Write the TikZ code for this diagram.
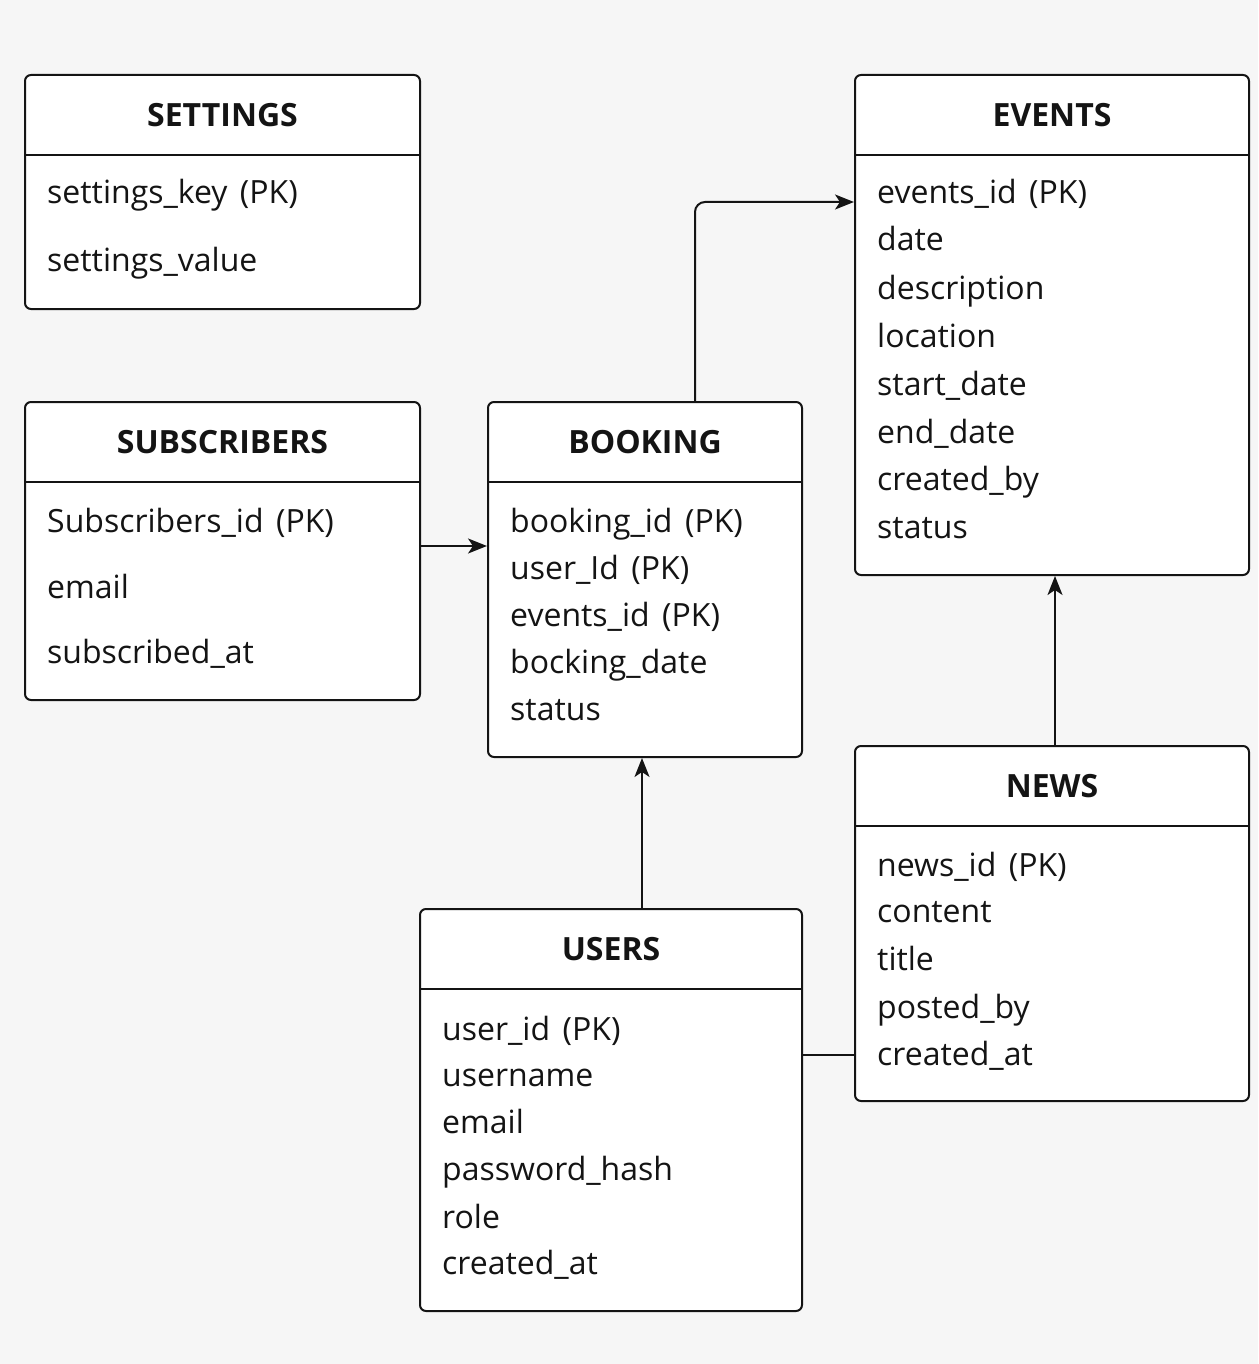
\documentclass[tikz,border=0pt]{standalone}
\usepackage{fontspec}
\setmainfont[WordSpace={1.5,1,1}]{Open Sans}
\usetikzlibrary{arrows.meta}
\definecolor{ink}{HTML}{141414}
\definecolor{paper}{HTML}{F6F6F6}
\begin{document}
\begin{tikzpicture}[x=1pt,y=-1pt,
  tbl/.style={draw=ink, fill=white, line width=2pt, rounded corners=6pt,
              inner sep=0pt, anchor=north west},
  ttl/.style={anchor=base, inner sep=0pt, text=ink,
              font=\fontsize{32}{38}\selectfont\bfseries},
  fld/.style={anchor=base west, inner sep=0pt, text=ink,
              font=\fontsize{32}{38}\selectfont},
  link/.style={draw=ink, line width=2pt},
  arrow/.style={link, -{Stealth[length=19pt,width=15pt,inset=5pt]}}]
% canvas
\fill[paper] (0,0) rectangle (1258,1364);
\useasboundingbox (0,0) rectangle (1258,1364);

% ---- table frames
\node[tbl, minimum width=395pt, minimum height=234pt] (settings) at (24,74) {};
\node[tbl, minimum width=395pt, minimum height=298pt] (subscribers) at (24,401) {};
\node[tbl, minimum width=314pt, minimum height=355pt] (booking) at (487,401) {};
\node[tbl, minimum width=394pt, minimum height=500pt] (events) at (854,74) {};
\node[tbl, minimum width=394pt, minimum height=355pt] (news) at (854,745) {};
\node[tbl, minimum width=382pt, minimum height=402pt] (users) at (419,908) {};

% ---- header separators
\foreach \t in {settings,subscribers,booking,events,news,users}{
  \draw[link] ([yshift=-81pt]\t.north west) -- ([yshift=-81pt]\t.north east);
}

% ---- titles
\node[ttl] (settings-t)    at ([yshift=-53pt]settings.north)    {SETTINGS};
\node[ttl] (subscribers-t) at ([yshift=-52pt]subscribers.north) {SUBSCRIBERS};
\node[ttl] (booking-t)     at ([yshift=-52pt]booking.north)     {BOOKING};
\node[ttl] (events-t)      at ([yshift=-53pt]events.north)      {EVENTS};
\node[ttl] (news-t)        at ([yshift=-52pt]news.north)        {NEWS};
\node[ttl] (users-t)       at ([yshift=-52pt]users.north)       {USERS};

% ---- SETTINGS fields
\node[fld] (settings-1) at ([xshift=23pt,yshift=-130pt]settings.north west) {settings\_key (PK)};
\node[fld] (settings-2) at ([xshift=23pt,yshift=-197pt]settings.north west) {settings\_value};

% ---- SUBSCRIBERS fields
\node[fld] (subscribers-1) at ([xshift=23pt,yshift=-131pt]subscribers.north west) {Subscribers\_id (PK)};
\node[fld] (subscribers-2) at ([xshift=23pt,yshift=-197pt]subscribers.north west) {email};
\node[fld] (subscribers-3) at ([xshift=23pt,yshift=-262pt]subscribers.north west) {subscribed\_at};

% ---- BOOKING fields
\node[fld] (booking-1) at ([xshift=23pt,yshift=-131pt]booking.north west) {booking\_id (PK)};
\node[fld] (booking-2) at ([xshift=23pt,yshift=-178pt]booking.north west) {user\_Id (PK)};
\node[fld] (booking-3) at ([xshift=23pt,yshift=-225pt]booking.north west) {events\_id (PK)};
\node[fld] (booking-4) at ([xshift=23pt,yshift=-272pt]booking.north west) {bocking\_date};
\node[fld] (booking-5) at ([xshift=23pt,yshift=-319pt]booking.north west) {status};

% ---- EVENTS fields
\node[fld] (events-1) at ([xshift=23pt,yshift=-130pt]events.north west) {events\_id (PK)};
\node[fld] (events-2) at ([xshift=23pt,yshift=-177pt]events.north west) {date};
\node[fld] (events-3) at ([xshift=23pt,yshift=-225pt]events.north west) {description};
\node[fld] (events-4) at ([xshift=23pt,yshift=-273pt]events.north west) {location};
\node[fld] (events-5) at ([xshift=23pt,yshift=-321pt]events.north west) {start\_date};
\node[fld] (events-6) at ([xshift=23pt,yshift=-369pt]events.north west) {end\_date};
\node[fld] (events-7) at ([xshift=23pt,yshift=-416pt]events.north west) {created\_by};
\node[fld] (events-8) at ([xshift=23pt,yshift=-464pt]events.north west) {status};

% ---- NEWS fields
\node[fld] (news-1) at ([xshift=23pt,yshift=-131pt]news.north west) {news\_id (PK)};
\node[fld] (news-2) at ([xshift=23pt,yshift=-177pt]news.north west) {content};
\node[fld] (news-3) at ([xshift=23pt,yshift=-225pt]news.north west) {title};
\node[fld] (news-4) at ([xshift=23pt,yshift=-273pt]news.north west) {posted\_by};
\node[fld] (news-5) at ([xshift=23pt,yshift=-320pt]news.north west) {created\_at};

% ---- USERS fields
\node[fld] (users-1) at ([xshift=23pt,yshift=-132pt]users.north west) {user\_id (PK)};
\node[fld] (users-2) at ([xshift=23pt,yshift=-178pt]users.north west) {username};
\node[fld] (users-3) at ([xshift=23pt,yshift=-225pt]users.north west) {email};
\node[fld] (users-4) at ([xshift=23pt,yshift=-272pt]users.north west) {password\_hash};
\node[fld] (users-5) at ([xshift=23pt,yshift=-320pt]users.north west) {role};
\node[fld] (users-6) at ([xshift=23pt,yshift=-366pt]users.north west) {created\_at};

% ---- relationships
\coordinate (sub-out) at ([yshift=-145pt]subscribers.north east);
\draw[arrow] (sub-out) -- (sub-out -| booking.west);

\coordinate (bk-up) at ([xshift=50pt]booking.north);
\coordinate (ev-in) at ([yshift=-128pt]events.north west);
\draw[arrow, rounded corners=10pt] (bk-up) |- (ev-in);

\coordinate (us-up) at ([xshift=31pt]users.north);
\draw[arrow] (us-up) -- (us-up |- booking.south);

\coordinate (nw-up) at ([xshift=3pt]news.north);
\draw[arrow] (nw-up) -- (nw-up |- events.south);

\coordinate (nw-in) at ([yshift=-310pt]news.north west);
\draw[link] (nw-in) -- (nw-in -| users.east);
\end{tikzpicture}
\end{document}
